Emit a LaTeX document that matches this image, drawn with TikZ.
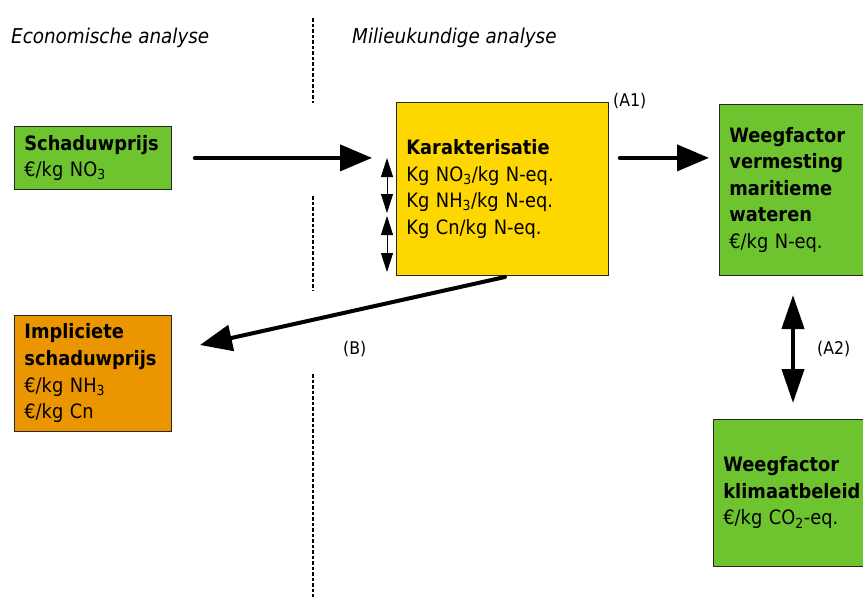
\documentclass[tikz,border=0pt]{standalone}
\usepackage{fontspec}
\setmainfont{DejaVu Sans Condensed}
\usetikzlibrary{arrows.meta}
\definecolor{boxgreen}{RGB}{110,196,46}
\definecolor{boxyellow}{RGB}{255,215,0}
\definecolor{boxorange}{RGB}{235,150,0}
\tikzset{
  box/.style={draw=black!85, line width=0.8pt, anchor=north west, inner xsep=10pt,
    inner ysep=0pt, align=left, font=\fontsize{19.8}{26.6}\selectfont},
  header/.style={anchor=base west, inner sep=0pt, font=\fontsize{20.4}{24}\selectfont\itshape},
  tag/.style={anchor=base west, inner sep=0pt, font=\fontsize{17.5}{20}\selectfont},
  divider/.style={line width=1.1pt, dash pattern=on 3.5pt off 2pt},
  bigarrow/.style={line width=4pt, line cap=round, -{Triangle[length=32pt,width=26pt]}},
  dblarrow/.style={line width=4pt, {Triangle[length=34pt,width=22pt]}-{Triangle[length=34pt,width=22pt]}},
  smallarrow/.style={line width=0.8pt, {Triangle[length=19pt,width=12pt]}-{Triangle[length=19pt,width=12pt]}}
}
\begin{document}
\begin{tikzpicture}[x=1pt,y=-1pt]
\useasboundingbox (0,0) rectangle (863,597);

% column headings and the dashed divider
\node[header] (econ) at (11,43) {Economische analyse};
\node[header] (milieu) at (352,43) {Milieukundige analyse};
\draw[divider] (313,18) -- (313,103);
\draw[divider] (313,196) -- (313,290);
\draw[divider] (313,374) -- (313,597);

% boxes
\node[box, fill=boxgreen, minimum width=157pt, minimum height=63pt, text width=137pt]
  (schad) at (14,126) {\textbf{Schaduwprijs}\\€/kg NO\textsubscript{3}};
\node[box, fill=boxyellow, minimum width=212pt, minimum height=173pt, text width=192pt]
  (kar) at (396,102) {\textbf{Karakterisatie}\\Kg NO\textsubscript{3}/kg N-eq.\\Kg NH\textsubscript{3}/kg N-eq.\\Kg Cn/kg N-eq.};
\node[box, fill=boxgreen, minimum width=160pt, minimum height=171pt, text width=140pt]
  (wv) at (719,104) {\textbf{Weegfactor}\\\textbf{vermesting}\\\textbf{maritieme}\\\textbf{wateren}\\€/kg N-eq.};
\node[box, fill=boxorange, minimum width=157pt, minimum height=116pt, text width=137pt]
  (impl) at (14,315) {\textbf{Impliciete}\\\textbf{schaduwprijs}\\€/kg NH\textsubscript{3}\\€/kg Cn};
\node[box, fill=boxgreen, minimum width=160pt, minimum height=147pt, text width=140pt]
  (wk) at (713,419) {\textbf{Weegfactor}\\\textbf{klimaatbeleid}\\€/kg CO\textsubscript{2}-eq.};

% labels
\node[tag] (a1) at (613,106) {(A1)};
\node[tag] (b) at (343,354) {(B)};
\node[tag] (a2) at (817,354) {(A2)};

% connectors
\coordinate (bstart) at (505,277);
\coordinate (btip) at (200,345);
\coordinate (a2top) at (793,295);
\coordinate (a2bot) at (793,403);
\coordinate (s1top) at (387,158);
\coordinate (s1bot) at (387,213);
\coordinate (s2top) at (387,216);
\coordinate (s2bot) at (387,272);

\draw[bigarrow, shorten <=23pt, shorten >=24pt] (schad.east) -- (schad.east -| kar.west);
\draw[bigarrow, shorten <=11pt, shorten >=10pt] (schad.east -| kar.east) -- (schad.east -| wv.west);
\draw[bigarrow] (bstart) -- (btip);
\draw[dblarrow] (a2top) -- (a2bot);
\draw[smallarrow] (s1top) -- (s1bot);
\draw[smallarrow] (s2top) -- (s2bot);
\end{tikzpicture}
\end{document}
